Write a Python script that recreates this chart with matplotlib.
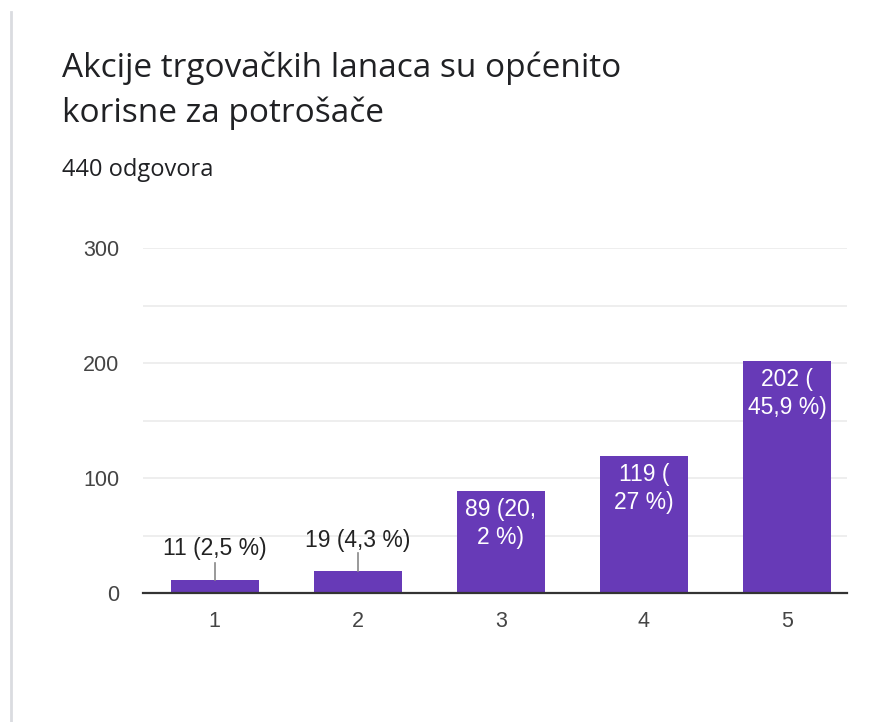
import matplotlib.pyplot as plt
import numpy as np

categories = ['1', '2', '3', '4', '5']
counts = [11, 19, 89, 119, 202]
labels = ['11 (2,5 %)', '19 (4,3 %)', '89 (20,\n2 %)', '119 (\n27 %)', '202 (\n45,9 %)']
inside = [False, False, True, True, True]
outside_y = [39, 46]     # label centres above the small bars
leader_top = [26, 35]

W, H = 876, 722
fig = plt.figure(figsize=(W / 100, H / 100), dpi=100)
fig.patch.set_facecolor('white')

# card border on the left
fig.add_artist(plt.Line2D([11 / W, 11 / W], [0, 1 - 12 / H], color='#dadce0', lw=2))

fig.text(62 / W, 1 - 68 / H, 'Akcije trgovačkih lanaca su općenito', fontsize=24,
         family='Open Sans', color='#202124', va='center')
fig.text(62 / W, 1 - 113 / H, 'korisne za potrošače', fontsize=24,
         family='Open Sans', color='#202124', va='center')
fig.text(62 / W, 1 - 170 / H, '440 odgovora', fontsize=17,
         family='Open Sans', color='#202124', va='center')

ax = fig.add_axes([143 / W, 129 / H, 704 / W, 345 / H])
x = np.arange(1, len(categories) + 1)
purple = '#673ab7'
ax.bar(x, counts, width=0.615, color=purple, zorder=3)

ax.set_xlim(0.5, 5.42)
ax.set_ylim(0, 300)
ax.set_yticks([0, 100, 200, 300])
ax.set_yticks([50, 150, 250], minor=True)
ax.set_xticks(x)
ax.set_xticklabels(categories)
ax.grid(axis='y', which='both', color='#ebebeb', lw=1.2, zorder=0)
ax.tick_params(axis='both', which='both', length=0, labelsize=15.5, labelcolor='#444444')
ax.tick_params(axis='y', pad=17)
ax.tick_params(axis='x', pad=13)
for lab in ax.get_xticklabels() + ax.get_yticklabels():
    lab.set_family('Liberation Sans')
for side in ['left', 'right', 'top']:
    ax.spines[side].set_visible(False)
ax.spines['bottom'].set_color('#333333')
ax.spines['bottom'].set_linewidth(1.6)
ax.spines['bottom'].set_zorder(4)

j = 0
for xi, c, lab, ins in zip(x, counts, labels, inside):
    if ins:
        ax.annotate(lab, (xi, c), xytext=(0, -5), textcoords='offset points',
                    ha='center', va='top', color='white', fontsize=16.5,
                    family='Liberation Sans', linespacing=1.3, zorder=5)
    else:
        ax.plot([xi, xi], [c, leader_top[j]], color='#888888', lw=1.2, zorder=4)
        ax.text(xi, outside_y[j], lab, ha='center', va='center', color='#222222',
                fontsize=16.5, family='Liberation Sans', zorder=5)
        j += 1

fig.savefig('out.png', dpi=100, facecolor='white')
